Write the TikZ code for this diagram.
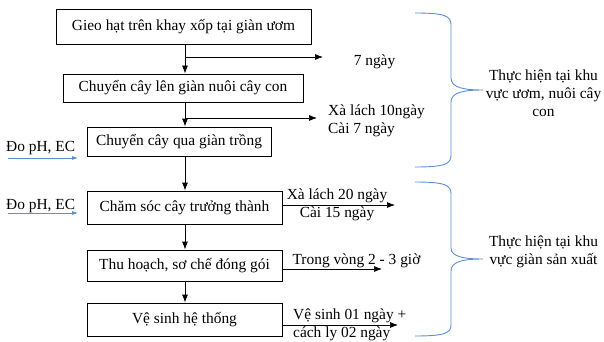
\documentclass[tikz,border=0pt]{standalone}
\usepackage{fontspec}
\setmainfont{Liberation Serif}
\usetikzlibrary{arrows.meta}
\definecolor{bracecol}{HTML}{5B8FD0}
\tikzset{
  stepbox/.style={draw=black, line width=0.8pt, inner sep=0pt, align=center},
  flow/.style={line width=0.8pt, -{Latex[length=8pt,width=6pt]}},
  side/.style={line width=0.7pt, -{Latex[length=8pt,width=6pt]}},
  bluearrow/.style={draw=bracecol, line width=0.8pt, -{Latex[length=6pt,width=4pt]}},
  bracepath/.style={draw=bracecol, line width=0.9pt},
  lbl/.style={inner sep=0pt, font=\fontsize{15.4}{18}\selectfont},
}
\begin{document}
\begin{tikzpicture}[x=1pt,y=-1pt, every node/.style={font=\fontsize{15.4}{18}\selectfont}]
\useasboundingbox (0,0) rectangle (604,342);
% boxes
\node[stepbox, minimum width=255pt, minimum height=35pt] (b1) at (183.5,27) {Gieo hạt trên khay xốp tại giàn ươm};
\node[stepbox, minimum width=240pt, minimum height=28pt] (b2) at (183,88) {Chuyển cây lên giàn nuôi cây con};
\node[stepbox, minimum width=184pt, minimum height=29pt] (b3) at (179,141.5) {Chuyển cây qua giàn trồng};
\node[stepbox, minimum width=195pt, minimum height=33pt] (b4) at (184.5,207.5) {Chăm sóc cây trưởng thành};
\node[stepbox, minimum width=195pt, minimum height=31pt] (b5) at (184.5,265.5) {Thu hoạch, sơ chế đóng gói};
\node[stepbox, minimum width=195pt, minimum height=33pt] (b6) at (184.5,319.5) {Vệ sinh hệ thống};
% main arrows
\coordinate (ax) at (185,0);
\draw[flow] (b1.south -| ax) -- (b2.north -| ax);
\draw[flow] (b2.south -| ax) -- (b3.north -| ax);
\draw[flow] (b3.south -| ax) -- (b4.north -| ax);
\draw[flow] (b4.south -| ax) -- (b5.north -| ax);
\draw[flow] (b5.south -| ax) -- (b6.north -| ax);
% side arrows
\coordinate (s1) at (185,57); \coordinate (t1) at (323,57);
\draw[side] (s1) -- (t1);
\coordinate (s2) at (185,118); \coordinate (t2) at (317,118);
\draw[side] (s2) -- (t2);
\coordinate (t4) at (395,205);
\draw[side] (t4 -| b4.east) -- (t4);
\coordinate (t5) at (382,269);
\draw[side] (t5 -| b5.east) -- (t5);
\coordinate (t6) at (398,325);
\draw[side] (t6 -| b6.east) -- (t6);
% side labels
\node[lbl] (l1) at (374.5,62) {7 ngày};
\node[lbl, anchor=west, align=left] (l2) at (328,120.5) {Xà lách 10ngày\\Cài 7 ngày};
\node[lbl, align=center] (l4) at (337,204.5) {Xà lách 20 ngày\\Cài 15 ngày};
\node[lbl] (l5) at (356.5,261) {Trong vòng 2 - 3 giờ};
\node[lbl, anchor=west, align=left] (l6) at (293,324.5) {Vệ sinh 01 ngày +\\cách ly 02 ngày};
% pH inputs
\node[lbl, anchor=west] (ph1) at (6,148) {Đo pH, EC};
\node[lbl, anchor=west] (ph2) at (6,206) {Đo pH, EC};
\coordinate (p1s) at (8,158); \coordinate (p1e) at (78,158);
\draw[bluearrow] (p1s) -- (p1e);
\coordinate (p2s) at (8,213); \coordinate (p2e) at (78,213);
\draw[bluearrow] (p2s) -- (p2e);
% braces
\draw[bracepath] (415,13) .. controls (445,13) and (451,16) .. (451,25) -- (451,78)
  .. controls (451,88) and (465,90) .. (483,90)
  .. controls (465,90) and (451,92) .. (451,102) -- (451,155)
  .. controls (451,164) and (445,167) .. (415,167);
\draw[bracepath] (415,182) .. controls (445,182) and (451,185) .. (451,194) -- (451,248)
  .. controls (451,257) and (465,259) .. (483,259)
  .. controls (465,259) and (451,261) .. (451,271) -- (451,325)
  .. controls (451,333) and (445,336) .. (415,336);
\node[lbl, align=center] (r1) at (543.5,93.5) {Thực hiện tại khu\\vực ươm, nuôi cây\\con};
\node[lbl, align=center] (r2) at (543.5,252) {Thực hiện tại khu\\vực giàn sản xuất};
\end{tikzpicture}
\end{document}
